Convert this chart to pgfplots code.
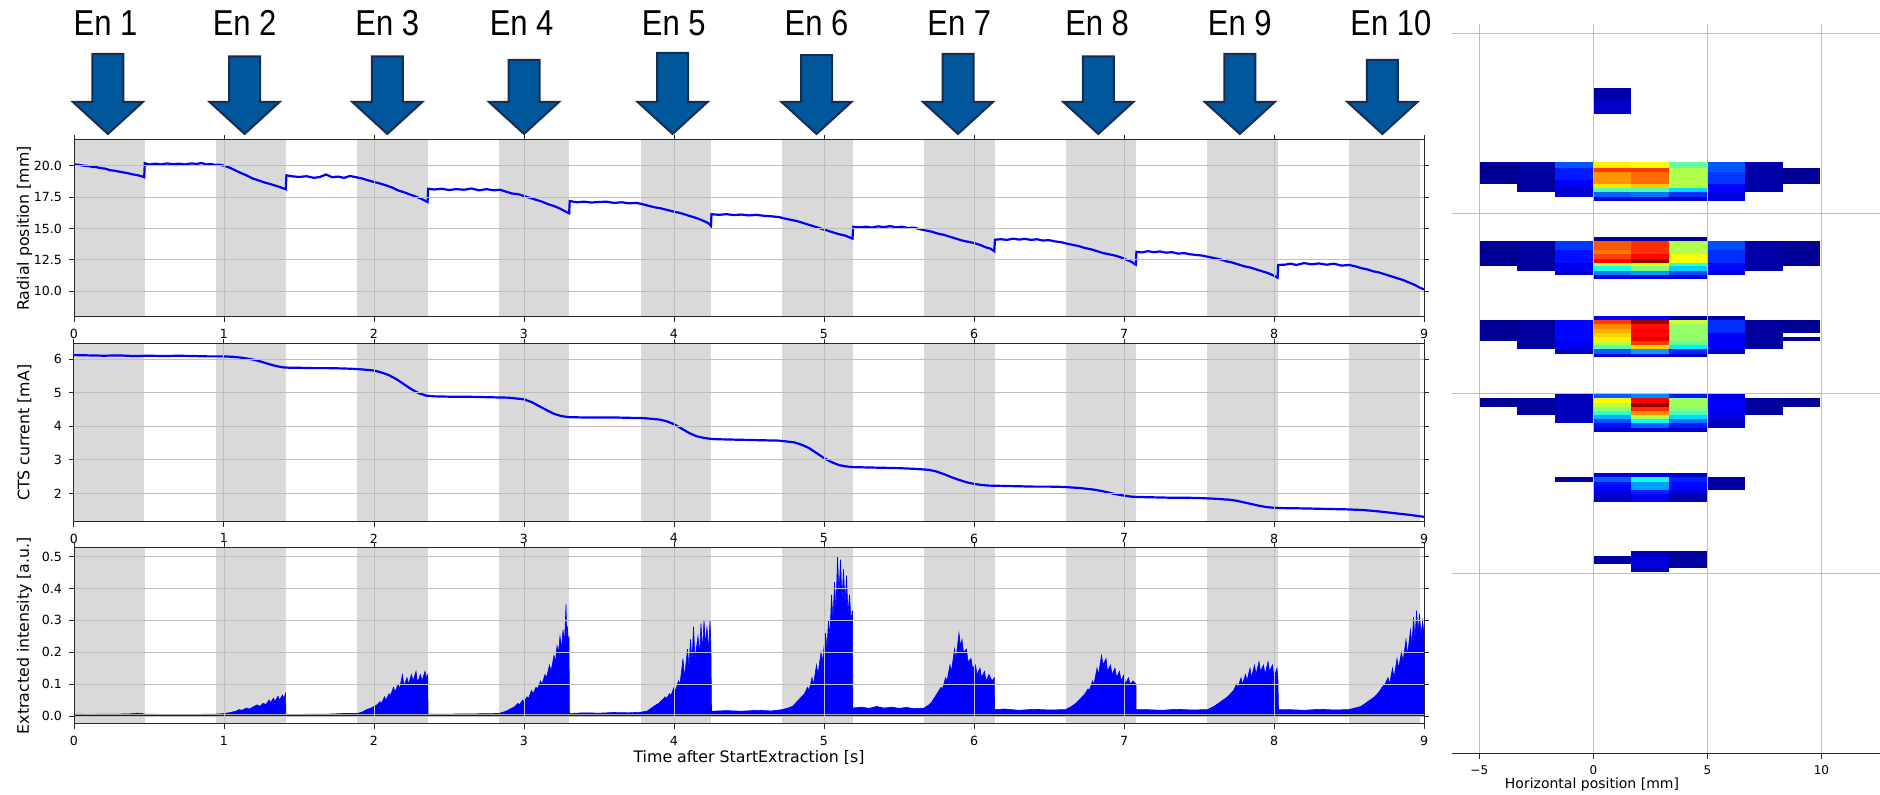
\documentclass[border=0pt]{standalone}
\usepackage{pgfplots}
\pgfplotsset{compat=1.18}
\usepackage{graphicx}
\usepackage{fontspec}
\setmainfont{DejaVu Sans}
\newfontfamily\arialfont{Liberation Sans}

\definecolor{bandgray}{RGB}{217,217,217}
\definecolor{gridgray}{RGB}{190,190,190}
\definecolor{arrowblue}{RGB}{0,87,155}
\definecolor{arrowedge}{RGB}{20,45,80}
\definecolor{spine}{RGB}{40,40,40}

\pgfplotsset{
  leftax/.style={
    scale only axis, width=675pt,
    xmin=0, xmax=9, xtick={0,1,2,3,4,5,6,7,8,9},
    grid=major, grid style={gridgray, line width=0.5pt},
    axis line style={spine, line width=0.5pt},
    tick align=outside, major tick length=2.5pt, tick style={spine, line width=0.5pt},
    every tick label/.append style={font=\fontsize{6.3}{7}\selectfont},
    /pgf/number format/assume math mode=true,
    axis on top,
    every axis y label/.style={at={(axis description cs:-0.0367,0.5)}, rotate=90, anchor=center, font=\fontsize{7.9}{9}\selectfont},
  },
  band/.style={fill=bandgray, draw=none, forget plot},
}
\newcommand\bands[2]{%
  \addplot[band] coordinates {(0,#1)(0,#2)(0.47,#2)(0.47,#1)};
  \addplot[band] coordinates {(0.944,#1)(0.944,#2)(1.414,#2)(1.414,#1)};
  \addplot[band] coordinates {(1.889,#1)(1.889,#2)(2.359,#2)(2.359,#1)};
  \addplot[band] coordinates {(2.833,#1)(2.833,#2)(3.303,#2)(3.303,#1)};
  \addplot[band] coordinates {(3.778,#1)(3.778,#2)(4.248,#2)(4.248,#1)};
  \addplot[band] coordinates {(4.722,#1)(4.722,#2)(5.192,#2)(5.192,#1)};
  \addplot[band] coordinates {(5.667,#1)(5.667,#2)(6.137,#2)(6.137,#1)};
  \addplot[band] coordinates {(6.611,#1)(6.611,#2)(7.081,#2)(7.081,#1)};
  \addplot[band] coordinates {(7.556,#1)(7.556,#2)(8.026,#2)(8.026,#1)};
  \addplot[band] coordinates {(8.5,#1)(8.5,#2)(8.97,#2)(8.97,#1)};
}

\begin{document}
\begin{tikzpicture}
\useasboundingbox (0,0) rectangle (940pt,397.5pt);

% ---------------- top: radial position
\begin{axis}[leftax, at={(37pt,239pt)}, anchor=south west, height=88.5pt,
  ymin=7.95, ymax=22.07, ytick={10,12.5,15,17.5,20},
  yticklabel style={/pgf/number format/fixed, /pgf/number format/fixed zerofill, /pgf/number format/precision=1},
  ylabel={Radial position [mm]}]
\bands{5}{25}
\addplot[blue, line width=1.1pt] coordinates {
(0,20.12)(0.03,20.09)(0.06,20.03)(0.09,20.0)(0.12,19.93)(0.15,19.9)(0.18,19.82)(0.21,19.78)(0.24,19.66)(0.27,19.62)(0.30,19.55)(0.33,19.48)(0.36,19.42)(0.39,19.33)(0.42,19.27)(0.45,19.18)(0.468,19.1)(0.472,20.22)
(0.5,20.12)(0.54,20.18)(0.58,20.12)(0.62,20.2)(0.66,20.14)(0.70,20.18)(0.74,20.12)(0.78,20.2)(0.82,20.16)(0.85,20.24)(0.88,20.12)(0.91,20.16)(0.94,20.08)(0.97,20.1)
(1.0,20.02)(1.04,19.85)(1.08,19.62)(1.11,19.45)(1.15,19.25)(1.19,19.0)(1.23,18.85)(1.27,18.68)(1.31,18.55)(1.35,18.4)(1.38,18.28)(1.412,18.14)(1.416,19.25)
(1.45,19.18)(1.5,19.12)(1.55,19.18)(1.6,19.05)(1.64,19.12)(1.68,19.32)(1.72,19.1)(1.76,19.15)(1.8,19.05)(1.84,19.2)(1.88,19.1)(1.92,19.0)
(1.96,18.85)(2.0,18.72)(2.04,18.6)(2.08,18.45)(2.12,18.28)(2.16,18.05)(2.2,17.9)(2.24,17.72)(2.28,17.55)(2.32,17.35)(2.357,17.12)(2.361,18.18)
(2.4,18.12)(2.45,18.18)(2.5,18.08)(2.55,18.15)(2.6,18.1)(2.65,18.2)(2.7,18.05)(2.75,18.15)(2.8,18.05)(2.84,18.1)
(2.88,17.95)(2.92,17.8)(2.96,17.75)(3.0,17.6)(3.04,17.45)(3.08,17.3)(3.12,17.15)(3.16,16.95)(3.2,16.8)(3.24,16.6)(3.27,16.4)(3.301,16.22)(3.305,17.2)
(3.35,17.1)(3.4,17.15)(3.45,17.08)(3.5,17.12)(3.55,17.15)(3.6,17.05)(3.65,17.1)(3.7,17.02)(3.75,17.05)(3.79,16.95)
(3.83,16.82)(3.87,16.7)(3.91,16.62)(3.95,16.5)(4.0,16.35)(4.04,16.25)(4.08,16.1)(4.12,15.95)(4.16,15.8)(4.2,15.6)(4.23,15.42)(4.246,15.22)(4.25,16.15)
(4.3,16.1)(4.35,16.15)(4.4,16.08)(4.45,16.12)(4.5,16.05)(4.55,16.1)(4.6,16.02)(4.65,15.98)(4.7,15.92)(4.74,15.8)
(4.78,15.7)(4.82,15.6)(4.86,15.45)(4.9,15.3)(4.94,15.15)(4.98,15.0)(5.02,14.85)(5.06,14.7)(5.1,14.55)(5.14,14.45)(5.17,14.3)(5.19,14.2)(5.195,15.15)
(5.24,15.1)(5.28,15.15)(5.32,15.08)(5.36,15.18)(5.4,15.12)(5.44,15.2)(5.48,15.1)(5.52,15.15)(5.56,15.05)(5.6,15.08)(5.64,14.95)(5.68,14.85)
(5.72,14.75)(5.76,14.6)(5.8,14.5)(5.84,14.35)(5.88,14.2)(5.92,14.05)(5.96,13.95)(6.0,13.85)(6.04,13.7)(6.08,13.5)(6.11,13.4)(6.135,13.2)(6.14,14.12)
(6.18,14.15)(6.22,14.1)(6.26,14.2)(6.3,14.12)(6.34,14.18)(6.38,14.1)(6.42,14.15)(6.46,14.05)(6.5,14.08)(6.54,13.98)(6.58,13.92)(6.62,13.8)
(6.66,13.7)(6.7,13.6)(6.74,13.45)(6.78,13.35)(6.82,13.2)(6.86,13.05)(6.9,12.95)(6.94,12.85)(6.98,12.7)(7.02,12.5)(7.05,12.35)(7.078,12.12)(7.083,13.15)
(7.12,13.1)(7.16,13.2)(7.2,13.12)(7.24,13.18)(7.28,13.08)(7.32,13.12)(7.36,13.0)(7.4,13.05)(7.44,12.95)(7.48,12.9)(7.52,12.85)(7.56,12.75)
(7.6,12.65)(7.64,12.55)(7.68,12.4)(7.72,12.3)(7.76,12.15)(7.8,12.0)(7.84,11.9)(7.88,11.75)(7.92,11.6)(7.96,11.45)(7.99,11.3)(8.024,11.08)(8.028,12.1)
(8.07,12.12)(8.11,12.2)(8.15,12.1)(8.2,12.25)(8.25,12.15)(8.3,12.22)(8.35,12.12)(8.4,12.2)(8.45,12.05)(8.5,12.1)
(8.54,12.0)(8.58,11.85)(8.62,11.75)(8.66,11.6)(8.7,11.5)(8.74,11.35)(8.78,11.2)(8.82,11.05)(8.86,10.9)(8.9,10.7)(8.94,10.5)(8.97,10.3)(9.0,10.15)
};
\end{axis}

% ---------------- middle: CTS current
\begin{axis}[leftax, at={(37pt,136.65pt)}, anchor=south west, height=88.85pt,
  ymin=1.155, ymax=6.45, ytick={2,3,4,5,6},
  ylabel={CTS current [mA]}]
\bands{0}{8}
\addplot[blue, line width=1.1pt] coordinates {
(0,6.12)(0.1,6.11)(0.2,6.1)(0.3,6.11)(0.4,6.09)(0.5,6.1)(0.6,6.09)(0.7,6.1)(0.8,6.09)(0.9,6.08)(1.0,6.08)(1.05,6.07)(1.1,6.05)(1.15,6.02)(1.2,5.98)(1.25,5.92)(1.3,5.85)(1.35,5.79)(1.4,5.75)(1.45,5.74)
(1.5,5.74)(1.6,5.73)(1.7,5.73)(1.8,5.72)(1.9,5.7)(2.0,5.66)(2.05,5.6)(2.1,5.52)(2.15,5.4)(2.2,5.25)(2.25,5.1)(2.3,4.98)(2.35,4.91)(2.4,4.89)
(2.5,4.88)(2.6,4.88)(2.7,4.87)(2.8,4.86)(2.9,4.85)(3.0,4.8)(3.05,4.72)(3.1,4.6)(3.15,4.48)(3.2,4.37)(3.25,4.3)(3.3,4.27)
(3.4,4.26)(3.5,4.26)(3.6,4.26)(3.7,4.25)(3.8,4.24)(3.9,4.2)(3.95,4.15)(4.0,4.06)(4.05,3.93)(4.1,3.8)(4.15,3.7)(4.2,3.65)(4.25,3.62)
(4.3,3.61)(4.4,3.6)(4.5,3.59)(4.6,3.58)(4.7,3.57)(4.8,3.52)(4.85,3.45)(4.9,3.35)(4.95,3.2)(5.0,3.05)(5.05,2.93)(5.1,2.84)(5.15,2.8)(5.2,2.78)
(5.3,2.77)(5.4,2.76)(5.5,2.75)(5.6,2.73)(5.7,2.7)(5.75,2.65)(5.8,2.57)(5.85,2.48)(5.9,2.4)(5.95,2.33)(6.0,2.28)(6.05,2.25)(6.1,2.23)(6.2,2.22)
(6.3,2.21)(6.4,2.2)(6.5,2.2)(6.6,2.19)(6.7,2.16)(6.8,2.11)(6.85,2.07)(6.9,2.02)(6.95,1.97)(7.0,1.93)(7.05,1.9)(7.1,1.89)
(7.2,1.88)(7.3,1.87)(7.4,1.87)(7.5,1.86)(7.6,1.84)(7.7,1.81)(7.75,1.78)(7.8,1.73)(7.85,1.68)(7.9,1.63)(7.95,1.59)(8.0,1.57)(8.05,1.56)
(8.2,1.55)(8.3,1.54)(8.4,1.53)(8.5,1.52)(8.6,1.5)(8.7,1.46)(8.8,1.41)(8.9,1.36)(9.0,1.3)
};
\end{axis}

% ---------------- bottom: extracted intensity
\begin{axis}[leftax, at={(37pt,35.5pt)}, anchor=south west, height=88.35pt,
  ymin=-0.025, ymax=0.529, ytick={0,0.1,0.2,0.3,0.4,0.5},
  yticklabel style={/pgf/number format/fixed, /pgf/number format/fixed zerofill, /pgf/number format/precision=1},
  ylabel={Extracted intensity [a.u.]},
  xlabel={Time after StartExtraction [s]},
  every axis x label/.style={at={(axis description cs:0.5,-0.1924)}, anchor=center, font=\fontsize{7.9}{9}\selectfont}]
\bands{-0.1}{0.7}
\addplot[fill=blue, draw=blue, line width=0.3pt] coordinates {
(0,0.006)(0.1,0.005)(0.2,0.006)(0.3,0.006)(0.38,0.007)(0.42,0.009)(0.45,0.008)(0.47,0.006)(0.6,0.005)(0.8,0.005)(0.944,0.006)
(0.98,0.007)(1.02,0.009)(1.05,0.012)(1.08,0.015)(1.1,0.02)(1.12,0.018)(1.15,0.025)(1.17,0.022)(1.2,0.03)(1.22,0.035)(1.24,0.03)(1.26,0.04)(1.28,0.036)(1.3,0.05)(1.31,0.042)(1.33,0.056)(1.34,0.046)(1.36,0.062)(1.37,0.05)(1.39,0.066)(1.4,0.055)(1.41,0.07)(1.413,0.005)
(1.5,0.005)(1.6,0.006)(1.7,0.006)(1.8,0.008)(1.889,0.008)
(1.92,0.012)(1.95,0.02)(1.98,0.025)(2.0,0.03)(2.02,0.035)(2.04,0.045)(2.05,0.04)(2.07,0.06)(2.08,0.05)(2.1,0.07)(2.11,0.065)(2.13,0.09)(2.14,0.075)(2.16,0.1)(2.17,0.085)(2.19,0.13)(2.2,0.095)(2.22,0.12)(2.23,0.1)(2.25,0.13)(2.26,0.11)(2.28,0.14)(2.29,0.105)(2.31,0.13)(2.32,0.11)(2.34,0.14)(2.35,0.12)(2.359,0.13)(2.36,0.006)
(2.5,0.006)(2.7,0.007)(2.833,0.008)
(2.86,0.012)(2.88,0.015)(2.9,0.02)(2.92,0.025)(2.94,0.03)(2.96,0.04)(2.97,0.035)(2.99,0.05)(3.0,0.045)(3.02,0.06)(3.03,0.055)(3.05,0.08)(3.06,0.07)(3.08,0.09)(3.09,0.085)(3.11,0.11)(3.12,0.1)(3.14,0.13)(3.15,0.12)(3.17,0.16)(3.18,0.14)(3.2,0.19)(3.21,0.17)(3.22,0.22)(3.23,0.2)(3.24,0.25)(3.25,0.21)(3.26,0.27)(3.27,0.23)(3.28,0.35)(3.285,0.24)(3.29,0.28)(3.295,0.22)(3.3,0.25)(3.303,0.008)
(3.4,0.01)(3.5,0.009)(3.6,0.011)(3.7,0.01)(3.778,0.012)
(3.82,0.015)(3.85,0.025)(3.88,0.035)(3.9,0.04)(3.92,0.05)(3.94,0.06)(3.95,0.055)(3.97,0.07)(3.98,0.065)(4.0,0.09)(4.01,0.08)(4.03,0.11)(4.04,0.1)(4.06,0.18)(4.07,0.12)(4.09,0.21)(4.1,0.15)(4.11,0.24)(4.12,0.17)(4.13,0.28)(4.14,0.18)(4.16,0.25)(4.17,0.19)(4.18,0.29)(4.19,0.2)(4.2,0.3)(4.21,0.22)(4.22,0.28)(4.23,0.2)(4.24,0.3)(4.246,0.22)(4.25,0.015)
(4.35,0.017)(4.45,0.015)(4.55,0.018)(4.65,0.016)(4.722,0.02)
(4.76,0.025)(4.79,0.03)(4.82,0.045)(4.85,0.06)(4.87,0.07)(4.89,0.09)(4.9,0.08)(4.92,0.12)(4.93,0.1)(4.95,0.16)(4.96,0.13)(4.98,0.2)(4.99,0.17)(5.01,0.26)(5.02,0.21)(5.03,0.3)(5.04,0.25)(5.05,0.38)(5.06,0.3)(5.07,0.42)(5.08,0.33)(5.09,0.5)(5.1,0.38)(5.11,0.49)(5.12,0.36)(5.13,0.46)(5.14,0.35)(5.15,0.44)(5.16,0.32)(5.17,0.38)(5.18,0.3)(5.19,0.33)(5.192,0.025)
(5.25,0.028)(5.3,0.024)(5.35,0.03)(5.4,0.025)(5.45,0.028)(5.5,0.024)(5.55,0.027)(5.6,0.023)(5.667,0.025)
(5.7,0.035)(5.72,0.045)(5.74,0.06)(5.76,0.075)(5.78,0.09)(5.79,0.085)(5.81,0.12)(5.82,0.11)(5.84,0.16)(5.85,0.14)(5.87,0.21)(5.88,0.18)(5.9,0.26)(5.91,0.22)(5.92,0.24)(5.93,0.2)(5.95,0.21)(5.96,0.17)(5.98,0.18)(5.99,0.15)(6.01,0.16)(6.02,0.13)(6.04,0.15)(6.05,0.12)(6.07,0.14)(6.08,0.11)(6.1,0.13)(6.12,0.11)(6.135,0.12)(6.137,0.02)
(6.2,0.022)(6.3,0.018)(6.4,0.021)(6.5,0.019)(6.611,0.02)
(6.65,0.03)(6.68,0.04)(6.7,0.05)(6.72,0.06)(6.74,0.07)(6.76,0.085)(6.77,0.08)(6.79,0.11)(6.8,0.1)(6.82,0.15)(6.83,0.13)(6.85,0.19)(6.86,0.16)(6.88,0.18)(6.89,0.14)(6.91,0.16)(6.92,0.13)(6.94,0.15)(6.95,0.12)(6.97,0.14)(6.98,0.11)(7.0,0.13)(7.01,0.1)(7.03,0.12)(7.04,0.1)(7.06,0.11)(7.08,0.1)(7.081,0.02)
(7.15,0.02)(7.25,0.018)(7.35,0.021)(7.45,0.019)(7.556,0.02)
(7.6,0.03)(7.63,0.04)(7.66,0.05)(7.69,0.06)(7.71,0.07)(7.73,0.08)(7.75,0.1)(7.76,0.09)(7.78,0.12)(7.79,0.1)(7.81,0.13)(7.82,0.11)(7.84,0.15)(7.85,0.12)(7.87,0.16)(7.88,0.13)(7.9,0.17)(7.91,0.14)(7.93,0.16)(7.94,0.13)(7.96,0.17)(7.97,0.14)(7.99,0.16)(8.0,0.12)(8.02,0.15)(8.026,0.12)(8.03,0.02)
(8.1,0.02)(8.2,0.018)(8.3,0.021)(8.4,0.019)(8.5,0.02)
(8.54,0.025)(8.58,0.03)(8.61,0.04)(8.64,0.05)(8.67,0.06)(8.7,0.075)(8.72,0.09)(8.74,0.1)(8.76,0.12)(8.77,0.1)(8.79,0.15)(8.8,0.12)(8.82,0.18)(8.83,0.15)(8.85,0.2)(8.86,0.17)(8.88,0.24)(8.89,0.19)(8.91,0.27)(8.92,0.22)(8.93,0.31)(8.94,0.24)(8.95,0.33)(8.96,0.26)(8.97,0.32)(8.98,0.25)(8.99,0.3)(9.0,0.26)
} \closedcycle;
\addplot[gray!70, line width=0.4pt] coordinates {(0,0.004)(9,0.004)};
\end{axis}

% ---------------- right: beam profile
\begin{axis}[scale only axis, width=214pt, height=365pt, at={(726pt,20.5pt)}, anchor=south west,
  xmin=-6.197, xmax=12.57, ymin=-754, ymax=-24,
  xtick={-5,0,5,10}, xticklabels={−5,0,5,10},
  ytick={-33.3,-213.3,-394,-573.3}, yticklabels={},
  grid=major, grid style={gridgray, line width=0.5pt},
  axis x line*=bottom, axis y line*=left,
  x axis line style={spine, line width=0.5pt},
  y axis line style={draw=none},
  ytick style={draw=none},
  tick align=outside, major tick length=2.5pt, xtick style={spine, line width=0.5pt},
  every tick label/.append style={font=\fontsize{6}{7}\selectfont},
  xlabel={Horizontal position [mm]},
  xlabel style={at={(axis description cs:0.327,0)}, anchor=center, yshift=-15.5pt, font=\fontsize{7}{8}\selectfont},
  axis on top,
  colormap/jet, point meta min=0, point meta max=100]
\addplot[mark=none, point meta=explicit,
  quiver={u=0, v=-\thisrow{h}, colored=mapped color, every arrow/.append style={line width=19pt}}]
  table[x=x, y expr=-\thisrow{y}, meta=c] {
x y h c
0.833 88.3 11.7 4
0.833 100 13.7 7
-4.167 162.3 22 2
-2.5 162.3 30 3
-0.833 162.3 5.4 21
-0.833 167.7 12.3 15
-0.833 180 8.3 12
-0.833 188.3 8.4 8
0.833 162.3 5.4 64
0.833 167.7 4 82
0.833 171.7 12.6 73
0.833 184.3 4 65
0.833 188.3 4 45
0.833 192.3 4.4 22
0.833 196.7 4 9
2.5 162.3 5.4 62
2.5 167.7 4 82
2.5 171.7 12.6 77
2.5 184.3 4 68
2.5 188.3 4 45
2.5 192.3 4.4 24
2.5 196.7 4 9
4.167 162.3 5.4 47
4.167 167.7 20.6 55
4.167 188.3 4 34
4.167 192.3 4.4 17
4.167 196.7 4 8
5.833 162.3 9.4 21
5.833 171.7 12.6 18
5.833 184.3 8 13
5.833 192.3 8.4 9
7.5 162.3 30 4
9.1 167.7 16.6 2
-4.167 241.3 25 2
-2.5 241.3 29.7 3
-0.833 241.3 9 18
-0.833 250.3 12.7 14
-0.833 263 8 11
-0.833 271 4.3 7
0.833 236.7 4.6 3
0.833 241.3 9 79
0.833 250.3 4 76
0.833 254.3 4.4 81
0.833 258.7 4.3 88
0.833 263 3.3 56
0.833 266.3 4.7 40
0.833 271 3.7 25
0.833 274.7 4 9
2.5 236.7 4.6 3
2.5 241.3 13 83
2.5 254.3 4.4 87
2.5 258.7 4.3 98
2.5 263 3.3 63
2.5 266.3 4.7 50
2.5 271 3.7 28
2.5 274.7 4 9
4.167 236.7 4.6 3
4.167 241.3 13 55
4.167 254.3 8.7 62
4.167 263 3.3 42
4.167 266.3 4.7 33
4.167 271 3.7 20
4.167 274.7 4 9
5.833 241.3 9 20
5.833 250.3 12.7 17
5.833 263 8 13
5.833 271 4.3 9
7.5 241.3 29.7 4
9.1 241.3 25 2
-4.167 320.3 20.7 2
-2.5 320.3 29 3
-0.833 320.3 20.7 13
-0.833 341 8.3 11
-0.833 349.3 4.4 6
0.833 316 4.3 12
0.833 320.3 4 82
0.833 324.3 4.4 74
0.833 328.7 4 70
0.833 332.7 4.3 67
0.833 337 4 64
0.833 341 4 56
0.833 345 4.3 46
0.833 349.3 4.4 22
0.833 353.7 3.3 9
2.5 316 4.3 12
2.5 320.3 4 97
2.5 324.3 4.4 86
2.5 328.7 4 88
2.5 332.7 4.3 87
2.5 337 4 90
2.5 341 4 82
2.5 345 4.3 67
2.5 349.3 4.4 28
2.5 353.7 3.3 9
4.167 316 4.3 4
4.167 320.3 4 58
4.167 324.3 16.7 52
4.167 341 4 47
4.167 345 4.3 36
4.167 349.3 4.4 16
4.167 353.7 3.3 8
5.833 316 4.3 4
5.833 320.3 12.4 17
5.833 332.7 16.6 12
5.833 349.3 4.4 7
7.5 320.3 29 3
9.1 320.3 12.4 2
9.1 337 4 2
-4.167 398.3 9 2
-2.5 398.3 17 3
-0.833 394 29.3 6
0.833 394 4.3 22
0.833 398.3 4.4 63
0.833 402.7 4.6 56
0.833 407.3 3.7 52
0.833 411 4.3 42
0.833 415.3 4 30
0.833 419.3 4 20
0.833 423.3 4.4 14
0.833 427.7 4 8
2.5 394 4.3 26
2.5 398.3 4.4 88
2.5 402.7 4.6 98
2.5 407.3 3.7 83
2.5 411 4.3 74
2.5 415.3 4 55
2.5 419.3 4 38
2.5 423.3 4.4 22
2.5 427.7 4 9
4.167 394 4.3 15
4.167 398.3 9 53
4.167 407.3 3.7 50
4.167 411 4.3 44
4.167 415.3 4 34
4.167 419.3 4 24
4.167 423.3 4.4 15
4.167 427.7 4 8
5.833 394 17 12
5.833 411 8.3 10
5.833 419.3 8.4 6
7.5 398.3 17 3
9.1 398.3 9 2
-0.833 477 4.7 3
0.833 472.7 4.3 10
0.833 477 4.7 22
0.833 481.7 4.3 14
0.833 486 4 13
0.833 490 4.3 11
0.833 494.3 7.7 7
2.5 472.7 4.3 11
2.5 477 4.7 40
2.5 481.7 8.3 28
2.5 490 4.3 16
2.5 494.3 7.7 12
4.167 472.7 4.3 8
4.167 477 4.7 16
4.167 481.7 8.3 13
4.167 490 4.3 10
4.167 494.3 7.7 5
5.833 477 13 3
0.833 556 8 4
2.5 551 5 5
2.5 556 12.3 9
2.5 568.3 4 6
4.167 551 17.3 3
};
\end{axis}

% ---------------- energy arrows and labels
\begin{scope}[x=0.5pt, y=-0.5pt, shift={(0pt,397.5pt)}]
\foreach \cx/\ty/\lx/\lab in {107.9/54/105.5/1, 244.6/56.4/244.6/2, 387.3/56.4/387.3/3, 524/60/521.6/4, 672.6/52.8/673.8/5, 816.5/55.2/816.5/6, 958/54/959.2/7, 1098.3/56.4/1097.1/8, 1239.8/54/1239.8/9, 1382.4/60/1390.8/10} {
  \filldraw[fill=arrowblue, draw=arrowedge, line width=1pt, line join=miter]
    (\cx-15.5,\ty) -- (\cx+15.5,\ty) -- (\cx+15.5,102) -- (\cx+35,102) -- (\cx,134) -- (\cx-35,102) -- (\cx-15.5,102) -- cycle;
  \node[font=\arialfont\fontsize{18}{20}\selectfont, inner sep=0pt] at (\lx,23) {\scalebox{0.86}[1]{En \lab}};
}
\end{scope}
\end{tikzpicture}
\end{document}
